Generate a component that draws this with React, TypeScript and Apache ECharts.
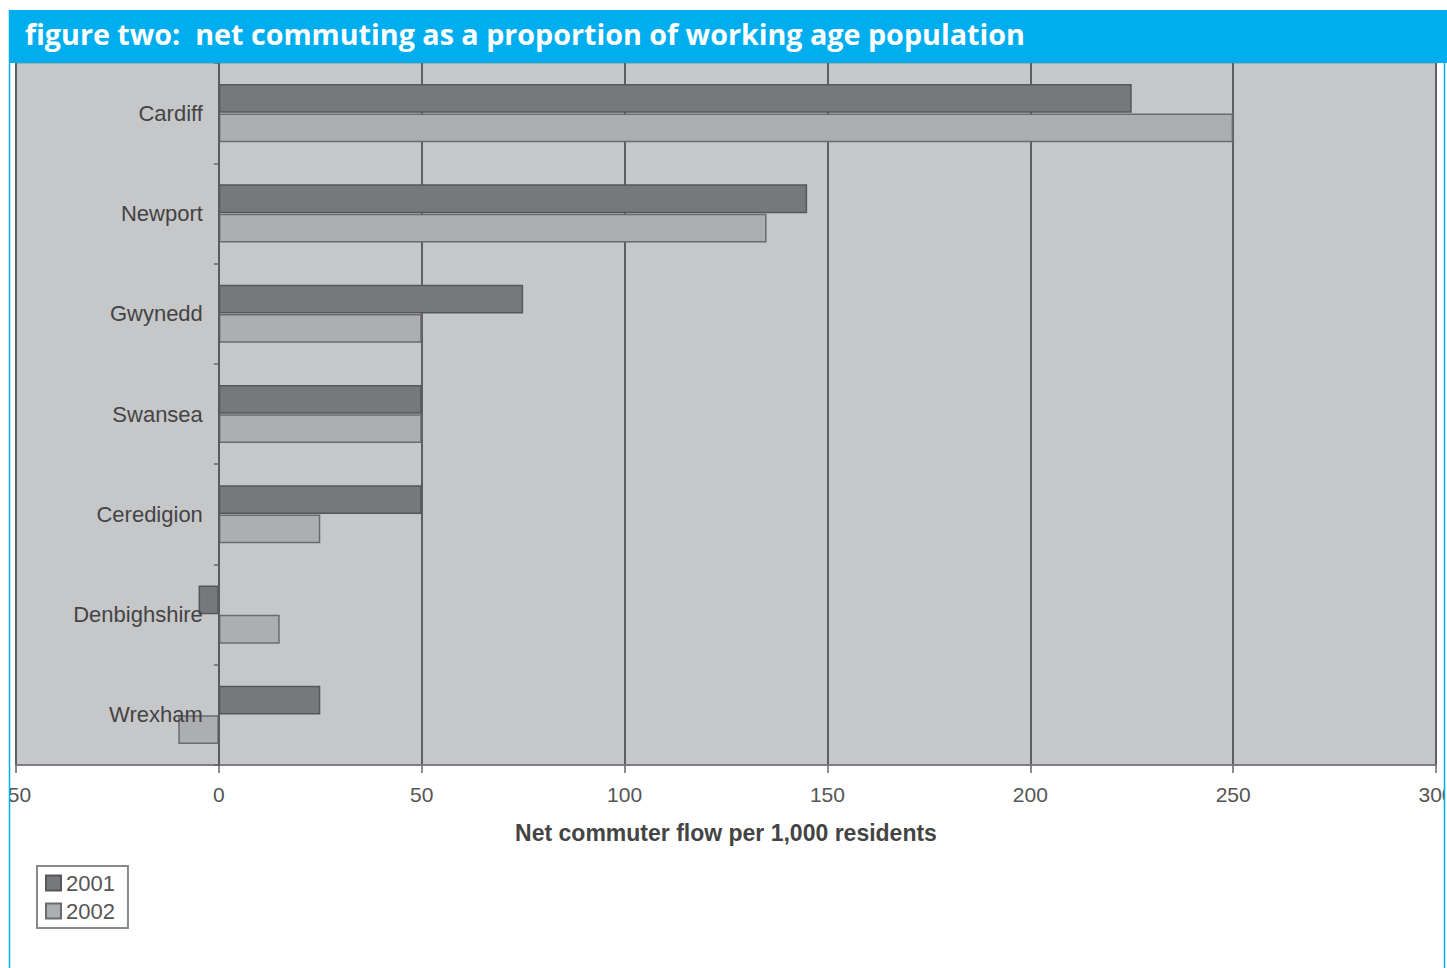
import React, { useEffect, useRef } from "react";
import * as echarts from "echarts";

const titleText = "figure two:  net commuting as a proportion of working age population";
const categories = ["Cardiff", "Newport", "Gwynedd", "Swansea", "Ceredigion", "Denbighshire", "Wrexham"];
const values2001 = [225, 145, 75, 50, 50, -5, 25];
const values2002 = [250, 135, 50, 50, 25, 15, -10];
const seriesNames = ["2001", "2002"];
const xAxisName = "Net commuter flow per 1,000 residents";
const xMin = -50;
const xMax = 300;

const gridLeft = 16;
const gridRight = 11;
const chartWidth = 1447;

export default function App() {
  const ref = useRef<HTMLDivElement>(null);
  useEffect(() => {
    if (!ref.current) return;
    const chart = echarts.init(ref.current, undefined, { renderer: "svg" });
    const plotWidth = chartWidth - gridLeft - gridRight;
    const zeroOffset = ((0 - xMin) / (xMax - xMin)) * plotWidth;
    chart.setOption({
      animation: false,
      backgroundColor: "#ffffff",
      grid: {
        left: gridLeft,
        right: gridRight,
        top: 63,
        bottom: 203,
        containLabel: false,
        outerBoundsMode: "none",
        show: true,
        backgroundColor: "#c6c7c9",
        borderColor: "#8e8f92",
        borderWidth: 1,
      },
      legend: {
        orient: "vertical",
        left: 37,
        top: 866,
        padding: [6, 13, 6, 8],
        itemWidth: 15,
        itemHeight: 15,
        itemGap: 6,
        borderColor: "#8a8a8a",
        borderWidth: 2,
        icon: "rect",
        textStyle: { fontFamily: "Liberation Sans", fontSize: 22, color: "#555" },
        data: seriesNames,
      },
      xAxis: {
        type: "value",
        min: xMin,
        max: xMax,
        interval: 50,
        name: xAxisName,
        nameLocation: "middle",
        nameGap: 56,
        nameTextStyle: {
          fontFamily: "Liberation Sans",
          fontWeight: "bold",
          fontSize: 23,
          color: "#444",
        },
        axisLine: { show: true, lineStyle: { color: "#7d7e81", width: 2 } },
        axisTick: { show: true, length: 8, lineStyle: { color: "#666", width: 1.5 } },
        axisLabel: {
          margin: 19,
          fontFamily: "Liberation Sans",
          fontSize: 21,
          color: "#555",
        },
        splitLine: { show: true, lineStyle: { color: "#5e5f63", width: 2 } },
      },
      yAxis: {
        type: "category",
        inverse: true,
        data: categories,
        offset: -zeroOffset,
        z: 5,
        axisLine: { show: true, onZero: false, lineStyle: { color: "#5a5b5f", width: 2 } },
        axisTick: { show: true, length: 5, lineStyle: { color: "#666", width: 1.5 } },
        axisLabel: {
          margin: 16,
          fontFamily: "Liberation Sans",
          fontSize: 22,
          color: "#444",
        },
        splitLine: { show: false },
      },
      series: [
        {
          name: seriesNames[0],
          type: "bar",
          data: values2001,
          barGap: "2%",
          barCategoryGap: "42%",
          itemStyle: { color: "#77787c", borderColor: "#56575a", borderWidth: 1.5 },
        },
        {
          name: seriesNames[1],
          type: "bar",
          data: values2002,
          barGap: "2%",
          barCategoryGap: "42%",
          itemStyle: { color: "#adaeb1", borderColor: "#6a6b6e", borderWidth: 1.5 },
        },
      ],
      graphic: [
        {
          type: "rect",
          shape: { x: 10, y: 10, width: 1437, height: 53 },
          style: { fill: "#00aeef" },
          z: 100,
        },
        {
          type: "text",
          x: 25,
          y: 33,
          style: {
            text: titleText,
            fill: "#ffffff",
            fontFamily: "Open Sans",
            fontWeight: "bold",
            fontSize: 28.7,
            verticalAlign: "middle",
          },
          z: 101,
        },
        {
          type: "rect",
          shape: { x: 0, y: 0, width: 9, height: 968 },
          style: { fill: "#ffffff" },
          z: 100,
        },
        {
          type: "rect",
          shape: { x: 1445, y: 63, width: 2, height: 905 },
          style: { fill: "#ffffff" },
          z: 100,
        },
        {
          type: "line",
          shape: { x1: 9.5, y1: 10, x2: 9.5, y2: 968 },
          style: { stroke: "#00aeef", lineWidth: 1.5 },
          z: 101,
        },
        {
          type: "line",
          shape: { x1: 1444.5, y1: 63, x2: 1444.5, y2: 968 },
          style: { stroke: "#00aeef", lineWidth: 1.5 },
          z: 101,
        },
      ],
    });
    return () => chart.dispose();
  }, []);
  return (
    <div
      ref={ref}
      style={{ position: "fixed", left: 0, top: 0, width: 1447, height: 968 }}
    />
  );
}
